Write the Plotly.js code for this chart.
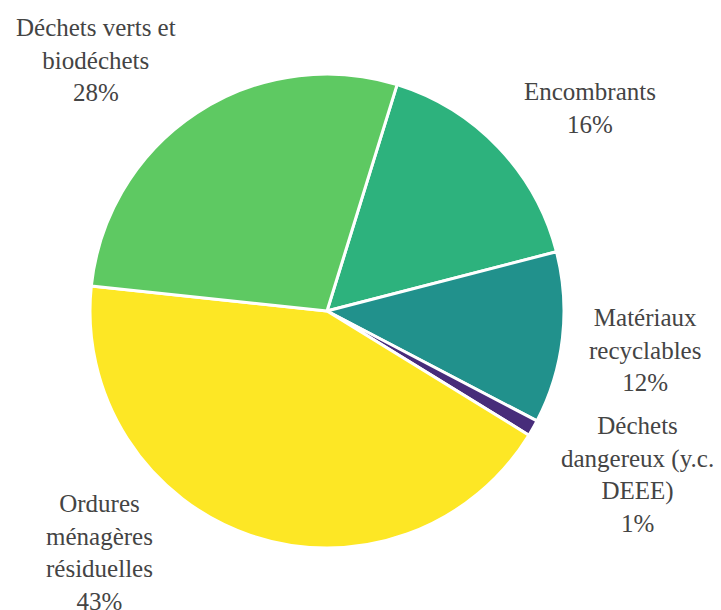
<!DOCTYPE html>
<html>
<head>
<meta charset="utf-8">
<script src="https://cdn.plot.ly/plotly-3.0.1.min.js"></script>
<style>html,body{margin:0;padding:0;background:#fff;}#chart{width:721px;height:610px;}</style>
</head>
<body>
<div id="chart"></div>
<script>
// ---- data ----
const categories = [
  "Encombrants",
  "Matériaux<br>recyclables",
  "Déchets<br>dangereux (y.c.<br>DEEE)",
  "Ordures<br>ménagères<br>résiduelles",
  "Déchets verts et<br>biodéchets"
];
const shares = [16.2, 11.7, 1.1, 42.9, 28.1];
const colors = ["#2db27d", "#21918c", "#472c7a", "#fde725", "#5ec962"];

// ---- label placement (relative to each slice's mid-angle) ----
const labelAngleShift = [5.9, 0.4, -1.9, 24.4, -9.2];      // degrees
const labelRadius = [1.402, 1.352, 1.481, 1.400, 1.439];   // in pie radii

const startAngle = 17.2;
const W = 721, H = 610;
const margin = { l: 90, r: 157, t: 74, b: 62 };
const plotW = W - margin.l - margin.r;   // 474
const plotH = H - margin.t - margin.b;   // 474
const R = Math.min(plotW, plotH) / 2;
const labelFont = { family: "Liberation Serif, DejaVu Serif, serif", size: 25, color: "#444444" };

const total = shares.reduce((a, b) => a + b, 0);
const annotations = [];
let acc = 0;
shares.forEach((v, i) => {
  const mid = startAngle + (acc + v / 2) / total * 360;
  acc += v;
  const ang = (mid + labelAngleShift[i]) * Math.PI / 180;
  const d = labelRadius[i] * R;
  const dx = d * Math.sin(ang);
  const dy = -d * Math.cos(ang);
  annotations.push({
    xref: "paper", yref: "paper",
    x: 0.5 + dx / plotW,
    y: 0.5 - dy / plotH,
    xanchor: "center", yanchor: "middle",
    align: "center",
    showarrow: false,
    text: categories[i] + "<br>" + Math.round(v / total * 100) + "%",
    font: labelFont
  });
});

const trace = {
  type: "pie",
  labels: categories,
  values: shares,
  sort: false,
  direction: "clockwise",
  rotation: startAngle,
  marker: { colors: colors, line: { color: "#ffffff", width: 3 } },
  textinfo: "none",
  hoverinfo: "label+percent"
};

const layout = {
  width: W,
  height: H,
  margin: margin,
  showlegend: false,
  paper_bgcolor: "#ffffff",
  font: labelFont,
  annotations: annotations
};

Plotly.newPlot("chart", [trace], layout, { displayModeBar: false, staticPlot: true });
</script>
</body>
</html>
